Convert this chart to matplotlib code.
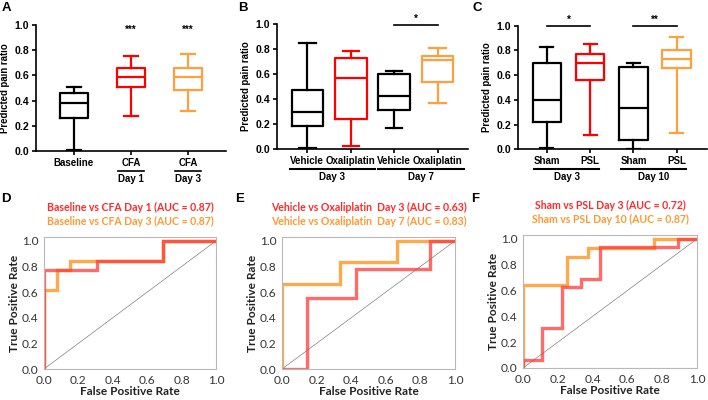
import numpy as np
import matplotlib
matplotlib.use("Agg")
import matplotlib.pyplot as plt
import matplotlib.transforms as mtransforms

# ---- box plot data (five-number summaries) ----
a_labels = ["Baseline", "CFA", "CFA"]
a_sub = ["", "Day 1", "Day 3"]
a_low = [0.005, 0.28, 0.318]
a_q1 = [0.265, 0.509, 0.483]
a_med = [0.377, 0.591, 0.59]
a_q3 = [0.464, 0.658, 0.658]
a_high = [0.504, 0.756, 0.767]

b_labels = ["Vehicle", "Oxaliplatin", "Vehicle", "Oxaliplatin"]
b_groups = ["Day 3", "Day 7"]
b_low = [0.005, 0.027, 0.171, 0.368]
b_q1 = [0.184, 0.243, 0.315, 0.536]
b_med = [0.296, 0.571, 0.427, 0.709]
b_q3 = [0.469, 0.731, 0.60, 0.744]
b_high = [0.851, 0.787, 0.624, 0.811]

c_labels = ["Sham", "PSL", "Sham", "PSL"]
c_groups = ["Day 3", "Day 10"]
c_low = [0.013, 0.116, 0.005, 0.129]
c_q1 = [0.224, 0.561, 0.073, 0.658]
c_med = [0.402, 0.695, 0.334, 0.733]
c_q3 = [0.695, 0.768, 0.666, 0.803]
c_high = [0.825, 0.849, 0.701, 0.908]

# ---- ROC curves ----
d_fpr1 = [0, 0, 4/13, 4/13, 9/13, 9/13, 1]
d_tpr1 = [0, 10/13, 10/13, 11/13, 11/13, 1, 1]
d_fpr2 = [0, 0, 1/13, 1/13, 2/13, 2/13, 9/13, 9/13, 1]
d_tpr2 = [0, 8/13, 8/13, 10/13, 10/13, 11/13, 11/13, 1, 1]

e_fpr1 = [0, 1/7, 1/7, 3/7, 3/7, 6/7, 6/7, 1]
e_tpr1 = [0, 0, 5/9, 5/9, 7/9, 7/9, 1, 1]
e_fpr2 = [0, 0, 1/3, 1/3, 2/3, 2/3, 1]
e_tpr2 = [0, 2/3, 2/3, 5/6, 5/6, 1, 1]

f_fpr1 = [0, 0, 1/9, 1/9, 2/9, 2/9, 3/9, 3/9, 4/9, 4/9, 8/9, 8/9, 1]
f_tpr1 = [0, 1/16, 1/16, 5/16, 5/16, 10/16, 10/16, 11/16, 11/16, 15/16, 15/16, 1, 1]
f_fpr2 = [0, 0, 0.25, 0.25, 0.375, 0.375, 0.75, 0.75, 1]
f_tpr2 = [0, 9/14, 9/14, 12/14, 12/14, 13/14, 13/14, 1, 1]

d_titles = ["Baseline vs CFA Day 1 (AUC = 0.87)", "Baseline vs CFA Day 3 (AUC = 0.87)"]
e_titles = ["Vehicle vs Oxaliplatin  Day 3 (AUC = 0.63)", "Vehicle vs Oxaliplatin  Day 7 (AUC = 0.83)"]
f_titles = ["Sham vs PSL Day 3 (AUC = 0.72)", "Sham vs PSL Day 10 (AUC = 0.87)"]

RED = "#ff0000"
ORANGE = "#ffa040"
ROC_RED = "#ff3838"
ROC_ORANGE = "#ff9a2e"
BOXFONT = ["Liberation Sans", "DejaVu Sans"]
ROCFONT = ["Lato", "DejaVu Sans"]

fig = plt.figure(figsize=(7.08, 4.0), dpi=100)


def box_panel(rect, low, q1, med, q3, high, colors, width, capw, xlim):
    ax = fig.add_axes(rect)
    for i in range(len(med)):
        st = dict(whislo=low[i], q1=q1[i], med=med[i], q3=q3[i], whishi=high[i])
        c = colors[i]
        ax.bxp([st], positions=[i], widths=width, capwidths=capw, showfliers=False,
               boxprops=dict(color=c, lw=1.6),
               whiskerprops=dict(color=c, lw=1.6),
               capprops=dict(color=c, lw=1.6),
               medianprops=dict(color=c, lw=1.6))
    ax.set_xlim(*xlim)
    ax.set_ylim(0, 1.0)
    ax.set_yticks(np.arange(0, 1.01, 0.2))
    ax.set_yticklabels([f"{v:.1f}" for v in np.arange(0, 1.01, 0.2)],
                       fontsize=7.6, fontweight="bold", family=BOXFONT)
    ax.set_ylabel("Predicted pain ratio", fontsize=6.9, fontweight="bold", family=BOXFONT, labelpad=3)
    for s in ["top", "right"]:
        ax.spines[s].set_visible(False)
    for s in ["left", "bottom"]:
        ax.spines[s].set_linewidth(1.2)
    ax.tick_params(width=1.2, length=3, pad=2)
    return ax


def xlabels(ax, labels):
    ax.set_xticks(range(len(labels)))
    ax.set_xticklabels(labels, fontsize=7, fontweight="bold", family=BOXFONT)


def group_lines(ax, spans, names, yline=-0.16, ytext=-0.225):
    tr = mtransforms.blended_transform_factory(ax.transData, ax.transAxes)
    for (x0, x1), name in zip(spans, names):
        ax.plot([x0, x1], [yline, yline], color="black", lw=1.5, transform=tr, clip_on=False)
        ax.text((x0 + x1) / 2, ytext, name, transform=tr, ha="center", va="center",
                fontsize=7, fontweight="bold", family=BOXFONT)


def sig(ax, x0, x1, y, label, bar=True):
    if bar:
        ax.plot([x0, x1], [y, y], color="black", lw=1.2, clip_on=False)
    ax.text((x0 + x1) / 2, y + 0.01, label, ha="center", va="bottom",
            fontsize=7, fontweight="bold", family=BOXFONT)


# Panel A
axA = box_panel([0.0508, 0.6225, 0.2684, 0.315], a_low, a_q1, a_med, a_q3, a_high,
                ["black", RED, ORANGE], 0.49, 0.25, (-0.667, 2.667))
xlabels(axA, a_labels)
trA = mtransforms.blended_transform_factory(axA.transData, axA.transAxes)
for i, s in enumerate(a_sub):
    if s:
        axA.plot([i - 0.22, i + 0.22], [-0.16, -0.16], color="black", lw=1.2, transform=trA, clip_on=False)
        axA.text(i, -0.225, s, transform=trA, ha="center", va="center",
                 fontsize=7, fontweight="bold", family=BOXFONT)
for i in [1, 2]:
    axA.text(i, 0.96, "***", ha="center", va="center", fontsize=7, fontweight="bold", family=BOXFONT)

# Panel B
axB = box_panel([0.3912, 0.6275, 0.2698, 0.3125], b_low, b_q1, b_med, b_q3, b_high,
                ["black", RED, "black", ORANGE], 0.73, 0.38, (-0.7, 3.7))
xlabels(axB, b_labels)
group_lines(axB, [(-0.4, 1.55), (1.62, 3.6)], b_groups)
sig(axB, 2, 3, 0.99, "*")

# Panel C
axC = box_panel([0.7316, 0.6267, 0.267, 0.309], c_low, c_q1, c_med, c_q3, c_high,
                ["black", RED, "black", ORANGE], 0.66, 0.3, (-0.67, 3.7))
xlabels(axC, c_labels)
group_lines(axC, [(-0.3, 1.21), (1.72, 3.21)], c_groups)
sig(axC, 0, 1, 1.0, "*")
sig(axC, 2, 3, 1.0, "**")


def roc_panel(rect, fpr1, tpr1, fpr2, tpr2, titles):
    ax = fig.add_axes(rect)
    ax.plot([0, 1], [0, 1], color="#808080", lw=0.5)
    ax.plot(fpr2, tpr2, color=ROC_ORANGE, lw=2.4, alpha=0.85, solid_joinstyle="miter")
    ax.plot(fpr1, tpr1, color=ROC_RED, lw=2.4, alpha=0.75, solid_joinstyle="miter")
    ax.set_xlim(0, 1.0)
    ax.set_ylim(0, 1.03)
    ticks = np.arange(0, 1.01, 0.2)
    ax.set_xticks(ticks)
    ax.set_yticks(ticks)
    ax.set_xticklabels([f"{v:.1f}" for v in ticks], fontsize=8.6, family=ROCFONT, color="#333333")
    ax.set_yticklabels([f"{v:.1f}" for v in ticks], fontsize=8.6, family=ROCFONT, color="#333333")
    ax.tick_params(length=0, pad=4)
    for s in ax.spines.values():
        s.set_color("#b8b8b8")
        s.set_linewidth(0.8)
    ax.set_xlabel("False Positive Rate", fontsize=8.6, fontweight="bold", family=ROCFONT, labelpad=0, color="#222222")
    ax.set_ylabel("True Positive Rate", fontsize=8.6, fontweight="bold", family=ROCFONT, labelpad=1, color="#222222")
    ax.text(0.5, 1.22, titles[0], transform=ax.transAxes, ha="center", va="center",
            fontsize=7.6, fontweight="bold", family=ROCFONT, color="#ff2a2a")
    ax.text(0.5, 1.12, titles[1], transform=ax.transAxes, ha="center", va="center",
            fontsize=7.6, fontweight="bold", family=ROCFONT, color="#ff9933")
    return ax


roc_panel([0.0621, 0.0775, 0.243, 0.33], d_fpr1, d_tpr1, d_fpr2, d_tpr2, d_titles)
roc_panel([0.3983, 0.0775, 0.2444, 0.33], e_fpr1, e_tpr1, e_fpr2, e_tpr2, e_titles)
roc_panel([0.7387, 0.08, 0.2458, 0.3325], f_fpr1, f_tpr1, f_fpr2, f_tpr2, f_titles)

# panel letters
for lab, x, y in [("A", 6, 8), ("B", 243, 8), ("C", 477, 8), ("D", 6, 199), ("E", 240, 199), ("F", 475, 199)]:
    fig.text(x / 708, 1 - y / 400, lab, ha="center", va="center", fontsize=9.5,
             fontweight="bold", family=BOXFONT)

fig.savefig("out.png", dpi=100)
